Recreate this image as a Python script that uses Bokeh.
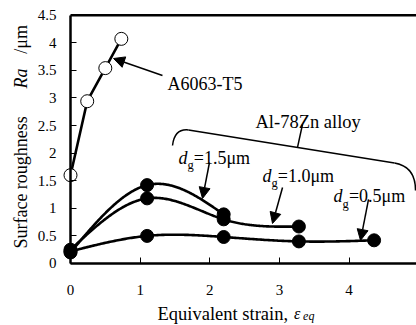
import numpy as np
from bokeh.plotting import figure
from bokeh.models import Label, Arrow, NormalHead, FixedTicker
from bokeh.embed import file_html
from bokeh.resources import INLINE

# ---- data ----
a6063_strain = [0.0, 0.24, 0.50, 0.73]
a6063_ra = [1.60, 2.94, 3.54, 4.07]

zn15_strain = [0.0, 1.1, 2.2]
zn15_ra = [0.20, 1.42, 0.89]

zn10_strain = [0.0, 1.1, 2.2, 3.28]
zn10_ra = [0.25, 1.18, 0.80, 0.67]

zn05_strain = [0.0, 1.1, 2.2, 3.28, 4.36]
zn05_ra = [0.22, 0.50, 0.48, 0.40, 0.42]

y_ticks = [0, 0.5, 1, 1.5, 2, 2.5, 3, 3.5, 4, 4.5]
y_tick_labels = ["0", "0.5", "1", "1.5", "2", "2.5", "3", "3.5", "4", "4.5"]
x_ticks = [0, 1, 2, 3, 4, 5]
x_tick_labels = ["0", "1", "2", "3", "4", "5"]

FONT = "Liberation Serif"


def natural_spline(xs, ys, n=200):
    x = np.asarray(xs, float)
    y = np.asarray(ys, float)
    k = len(x)
    h = np.diff(x)
    A = np.zeros((k, k))
    r = np.zeros(k)
    A[0, 0] = 1
    A[-1, -1] = 1
    for i in range(1, k - 1):
        A[i, i - 1] = h[i - 1]
        A[i, i] = 2 * (h[i - 1] + h[i])
        A[i, i + 1] = h[i]
        r[i] = 6 * ((y[i + 1] - y[i]) / h[i] - (y[i] - y[i - 1]) / h[i - 1])
    M = np.linalg.solve(A, r)
    xx = np.linspace(x[0], x[-1], n)
    idx = np.clip(np.searchsorted(x, xx) - 1, 0, k - 2)
    x0 = x[idx]
    x1 = x[idx + 1]
    hh = x1 - x0
    t0 = xx - x0
    t1 = x1 - xx
    yy = (M[idx] * t1 ** 3 / (6 * hh) + M[idx + 1] * t0 ** 3 / (6 * hh)
          + (y[idx] / hh - M[idx] * hh / 6) * t1
          + (y[idx + 1] / hh - M[idx + 1] * hh / 6) * t0)
    return xx, yy


X_LO, X_HI = -1.0053, 4.969
Y_LO, Y_HI = -1.1234, 4.765
p = figure(width=416, height=325, x_range=(X_LO, X_HI), y_range=(Y_LO, Y_HI),
           output_backend="svg", toolbar_location=None,
           min_border_left=0, min_border_right=0, min_border_top=0, min_border_bottom=0)
p.grid.visible = False
p.outline_line_color = None
p.background_fill_color = "white"
p.border_fill_color = "white"

for ax in (p.xaxis[0], p.yaxis[0]):
    ax.axis_line_width = 2.5
    ax.axis_line_color = "black"
    ax.major_tick_in = 6
    ax.major_tick_out = 0
    ax.minor_tick_in = 0
    ax.minor_tick_out = 0
    ax.major_tick_line_color = "black"
    ax.major_tick_line_width = 1
    ax.major_label_text_font = FONT
    ax.major_label_text_font_size = "15px"
    ax.major_label_text_color = "black"
    ax.fixed_location = 0

p.xaxis.ticker = FixedTicker(ticks=x_ticks)
p.xaxis.major_label_overrides = dict(zip(x_ticks, x_tick_labels))
p.xaxis.major_label_standoff = 22
p.xaxis.bounds = (0, 5)

p.yaxis.ticker = FixedTicker(ticks=y_ticks)
p.yaxis.major_label_overrides = dict(zip(y_ticks, y_tick_labels))
p.yaxis.major_label_standoff = 14
p.yaxis.bounds = (0, 4.5)

# top frame line
p.segment(x0=[0], y0=[4.5], x1=[X_HI], y1=[4.5], line_color="black", line_width=2.5)

# curves
p.line(a6063_strain, a6063_ra, line_color="black", line_width=2.6)
for xs, ys in ((zn15_strain, zn15_ra), (zn10_strain, zn10_ra), (zn05_strain, zn05_ra)):
    sx, sy = natural_spline(xs, ys)
    p.line(sx, sy, line_color="black", line_width=2.6)

p.scatter(a6063_strain, a6063_ra, size=13, fill_color="white", line_color="black", line_width=1)
for xs, ys in ((zn15_strain, zn15_ra), (zn10_strain, zn10_ra), (zn05_strain, zn05_ra)):
    p.scatter(xs, ys, size=13, fill_color="black", line_color="black")

# bracket for Al-78Zn alloy
p.quadratic(x0=[1.465], y0=[2.138], cx=[1.494], cy=[2.446], x1=[1.695], y1=[2.419],
            line_color="black", line_width=1.5)
p.segment(x0=[1.695, 3.260], y0=[2.419, 2.103], x1=[4.653, 3.332], y1=[1.821, 2.519],
          line_color="black", line_width=1.5)
p.quadratic(x0=[4.653], y0=[1.821], cx=[4.955], cy=[1.758], x1=[4.955], y1=[1.323],
            line_color="black", line_width=1.5)

# arrows
for (xs_, ys_, xe, ye) in ((1.321, 3.406, 0.618, 3.714),
                           (1.996, 1.830, 1.896, 1.178),
                           (3.045, 1.377, 2.901, 0.725),
                           (4.280, 1.160, 4.165, 0.417)):
    p.add_layout(Arrow(end=NormalHead(size=11, fill_color="black", line_color="black", line_width=1),
                       x_start=xs_, y_start=ys_, x_end=xe, y_end=ye,
                       line_color="black", line_width=1.5))


def lab(x, y, text, size="17px", style="normal", angle=0.0, align="left", baseline="alphabetic"):
    p.add_layout(Label(x=x, y=y, text=text, text_font=FONT, text_font_size=size,
                       text_font_style=style, text_color="black", angle=angle,
                       text_align=align, text_baseline=baseline))


lab(1.393, 3.261, "A6063-T5", size="18px")
lab(2.657, 2.555, "Al-78Zn alloy", size="18.5px")

# d_g labels
for (xd, yb, yg, txt) in ((1.551, 1.903, 1.776, "=1.5\u03bcm"),
                          (2.757, 1.594, 1.467, "=1.0\u03bcm"),
                          (3.778, 1.214, 1.087, "=0.5\u03bcm")):
    lab(xd, yb, "d", size="18px", style="italic")
    lab(xd + 0.13, yg, "g", size="12.5px")
    lab(xd + 0.22, yb, txt, size="18px")

# y axis title (rotated)
ang = np.pi / 2
lab(-0.704, 0.27, "Surface roughness", size="18px", angle=ang, baseline="middle")
lab(-0.704, 3.17, "Ra", size="18px", style="italic", angle=ang, baseline="middle")
lab(-0.704, 3.80, "/\u03bcm", size="18px", angle=ang, baseline="middle")

# x axis title
lab(1.25, -0.906, "Equivalent strain,", size="18.5px")
lab(3.21, -0.906, "\u03b5", size="16px", style="italic")
lab(3.34, -0.96, "eq", size="12px", style="italic")

open("out.html", "w").write(file_html(p, INLINE))
